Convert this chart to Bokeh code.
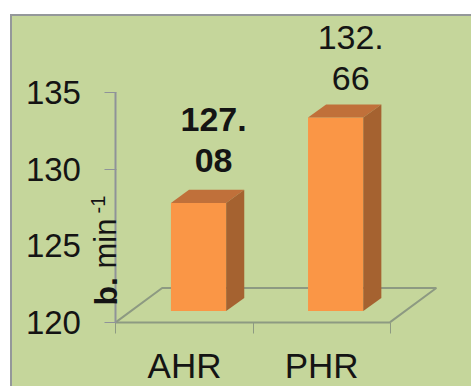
from bokeh.embed import file_html
from bokeh.resources import INLINE
from bokeh.core.properties import value
from bokeh.models import Range1d, LinearAxis, FixedTicker, Label
from bokeh.plotting import figure
from math import pi

# chart content
categories = ["AHR", "PHR"]
heart_rates = [127.08, 132.66]
label_weights = ["bold", "normal"]
y_ticks = [120, 125, 130, 135]

# colours
PANEL = "#c5d69b"
EDGE = "#94989a"
AXIS_GREY = "#8f9399"
FLOOR_GREY = "#8d9a82"
FRONT = "#fa9646"
TOP = "#c0703a"
SIDE = "#a56230"
INK = "#141414"
FONT = "Liberation Sans"

# scale of the plot area, in pixels
UNIT_Y = 15.2      # pixels per beat
UNIT_X = 136.5     # pixels per category
FRAME_W = 459
FRAME_H = 370
AXIS_LEFT = 103    # from the frame's left edge to the value axis
AXIS_BOTTOM = 66   # from the frame's bottom edge to the category axis
PLANE_SHIFT_Y = 11 # bars stand this far above the floor's front edge
PLANE_SHIFT_X = 14
LABEL_LIFT = [42, 39]
LINE_GAP = 41

x_start = -AXIS_LEFT / UNIT_X
x_end = (FRAME_W - AXIS_LEFT) / UNIT_X
y_start = 120 - AXIS_BOTTOM / UNIT_Y
y_end = 120 + (FRAME_H - AXIS_BOTTOM) / UNIT_Y

p = figure(
    width=461, height=372, output_backend="svg", toolbar_location=None,
    x_range=Range1d(x_start, x_end), y_range=Range1d(y_start, y_end),
    x_axis_type=None, y_axis_type=None,
    min_border_left=0, min_border_right=0, min_border_top=0, min_border_bottom=0,
    background_fill_color=None, border_fill_color=None, outline_line_color=None,
    margin=(14, 0, 0, 10),
    styles={"background-color": PANEL,
            "border-left": f"2px solid {EDGE}", "border-top": f"2px solid {EDGE}"},
)
p.grid.visible = False

# bars live in a plane shifted back from the axis plane
bar_shift = PLANE_SHIFT_Y / UNIT_Y
p.extra_y_ranges["bars"] = Range1d(y_start - bar_shift, y_end - bar_shift)

# value axis, pinned at the left end of the floor
yaxis = LinearAxis(ticker=FixedTicker(ticks=y_ticks), bounds=(120, 135), fixed_location=0)
yaxis.axis_line_color = AXIS_GREY
yaxis.axis_line_width = 2
yaxis.major_tick_line_color = AXIS_GREY
yaxis.major_tick_out = 11
yaxis.major_tick_in = 1
yaxis.minor_tick_line_color = None
yaxis.major_label_text_font = FONT
yaxis.major_label_text_font_size = "33px"
yaxis.major_label_text_color = INK
yaxis.major_label_standoff = 24
p.add_layout(yaxis, "left")

# category axis: separators at the category edges, names in the middle
xaxis = LinearAxis(
    ticker=FixedTicker(ticks=[0.5, 1.5], minor_ticks=[0, 1, 2]),
    bounds=(0, 2),
    fixed_location=120,
    major_label_overrides={0.5: categories[0], 1.5: categories[1]},
)
xaxis.axis_line_color = FLOOR_GREY
xaxis.axis_line_width = 2
xaxis.major_tick_line_color = None
xaxis.minor_tick_line_color = FLOOR_GREY
xaxis.minor_tick_out = 11
xaxis.minor_tick_in = 0
xaxis.major_label_text_font = FONT
xaxis.major_label_text_font_size = "35px"
xaxis.major_label_text_color = INK
xaxis.major_label_standoff = 13
p.add_layout(xaxis, "below")

# floor of the 3D box
floor_dx = 46 / UNIT_X
floor_dy = 34 / UNIT_Y
p.line([0, floor_dx, 2 + floor_dx, 2], [120, 120 + floor_dy, 120 + floor_dy, 120],
       line_color=FLOOR_GREY, line_width=2)

# bars with their top and side faces
half = 27.5 / UNIT_X
depth_x = 18 / UNIT_X
depth_y = 13 / UNIT_Y
for i, v in enumerate(heart_rates):
    c = i + 0.5 + PLANE_SHIFT_X / UNIT_X
    l, r = c - half, c + half
    p.patch([l, r, r, l], [120, 120, v, v], y_range_name="bars", fill_color=FRONT, line_color=None)
    p.patch([l, r, r + depth_x, l + depth_x], [v, v, v + depth_y, v + depth_y],
            y_range_name="bars", fill_color=TOP, line_color=None)
    p.patch([r, r + depth_x, r + depth_x, r], [120, 120 + depth_y, v + depth_y, v],
            y_range_name="bars", fill_color=SIDE, line_color=None)
    head, tail = f"{v:.2f}".split(".")
    lift = -LABEL_LIFT[i]
    for text, off in ((head + ".", lift - LINE_GAP), (tail, lift)):
        p.text([r + depth_x / 2 - half + 6 / UNIT_X], [v], text=[text], y_range_name="bars",
               text_font=value(FONT), text_font_size="34px", text_font_style=label_weights[i],
               text_color=INK, text_align="center", text_baseline="alphabetic", y_offset=off)

# unit title: bold "b.", regular "min", raised "-1"
title_parts = [("b.", "bold", "32px", 93, 83), ("min", "normal", "31px", 93, 120),
               ("-1", "normal", "20px", 85, 175)]
for text, weight, size, sx, sy in title_parts:
    p.add_layout(Label(x=sx, y=sy, x_units="screen", y_units="screen", text=text, angle=pi / 2,
                       text_font=FONT, text_font_style=weight, text_font_size=size,
                       text_color=INK, text_baseline="alphabetic", text_align="left"))

open("out.html", "w").write(file_html(p, INLINE))
